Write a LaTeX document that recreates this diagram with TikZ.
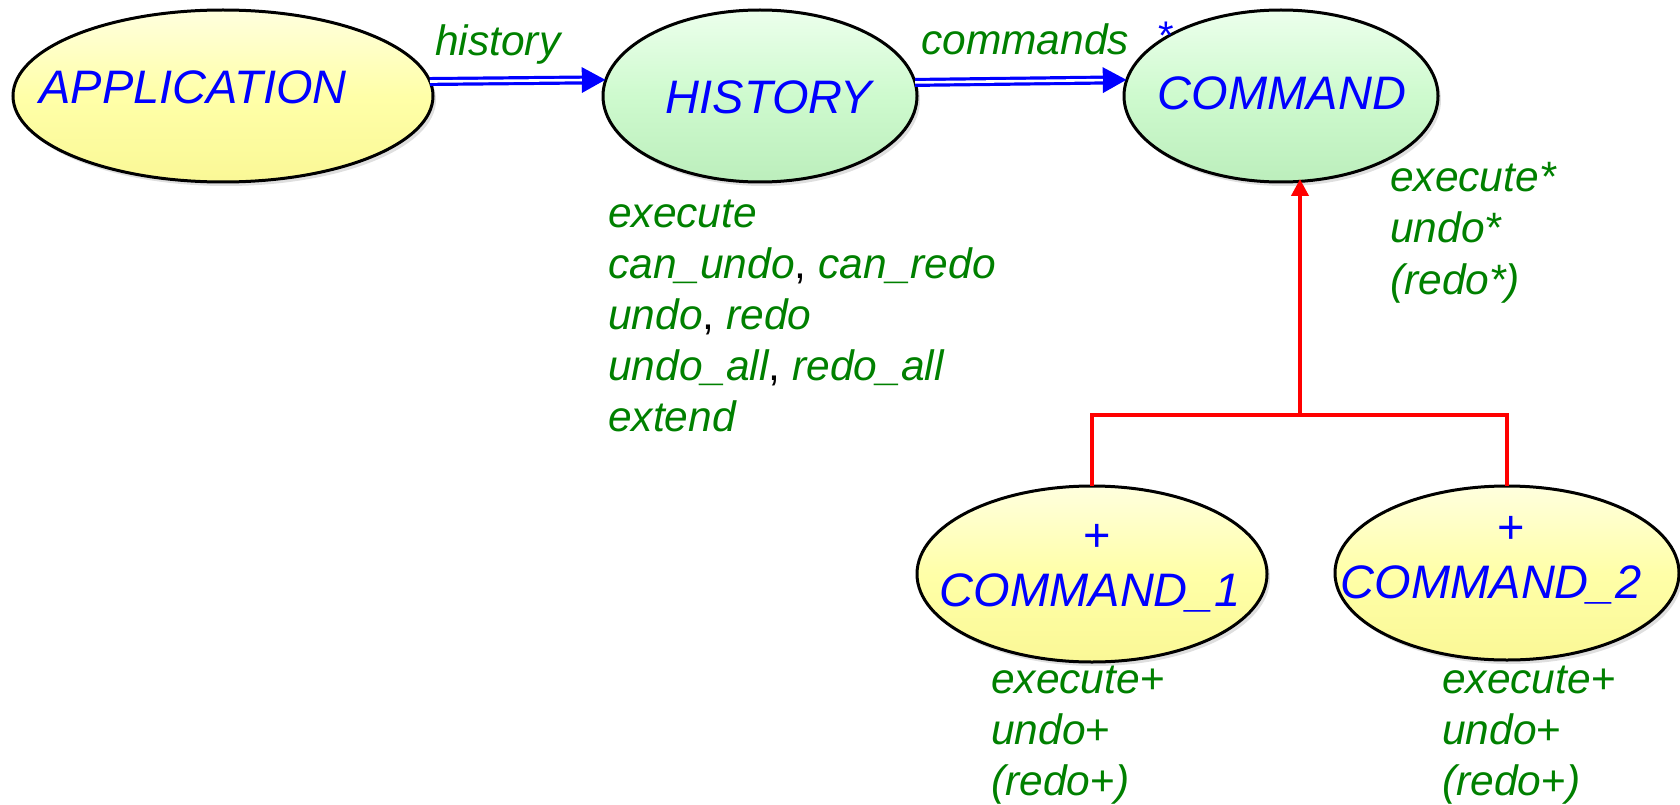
\documentclass[tikz,border=0pt]{standalone}
\usepackage{fontspec}
\setmainfont{Liberation Sans}
\usetikzlibrary{arrows.meta,shapes.geometric,shadows}
\definecolor{fgreen}{RGB}{0,128,0}
\definecolor{ytop}{RGB}{255,255,222}
\definecolor{ymid}{RGB}{255,255,168}
\definecolor{ybot}{RGB}{250,248,150}
\definecolor{gtop}{RGB}{236,255,236}
\definecolor{gmid}{RGB}{206,250,206}
\definecolor{gbot}{RGB}{188,238,188}
\newcommand\blackcomma{{\upshape\color{black},}}
\newcommand\plussign{{\upshape +}}
\begin{document}
\begin{tikzpicture}[x=1pt,y=-1pt,
  ell/.style={ellipse, draw=black, line width=3pt, outer sep=0pt, inner sep=0pt,
    drop shadow={opacity=0.25, shadow xshift=3pt, shadow yshift=-4pt}},
  yell/.style={ell, top color=ytop, bottom color=ybot, middle color=ymid},
  gell/.style={ell, top color=gtop, bottom color=gbot, middle color=gmid},
  cls/.style={text=blue, font=\fontsize{47}{55}\selectfont\itshape, inner sep=0pt, anchor=base},
  feat/.style={text=fgreen, font=\fontsize{42.5}{51}\selectfont\itshape, inner sep=0pt, anchor=base west},
  assoc/.style={draw=blue, line width=9pt, -{Triangle[length=24pt,width=24pt]}},
  gapline/.style={draw=white, line width=2.6pt, shorten >=24pt},
  inherit/.style={draw=red, line width=4pt}]
\useasboundingbox (0,0) rectangle (1680,805);

% ellipses
\node[yell, minimum width=420pt, minimum height=172pt] (app) at (223,96) {};
\node[gell, minimum width=314pt, minimum height=172pt] (hist) at (760,96) {};
\node[gell, minimum width=314pt, minimum height=172pt] (cmd) at (1281,96) {};
\node[yell, minimum width=350pt, minimum height=176pt] (c1) at (1092,574) {};
\node[yell, minimum width=344pt, minimum height=174pt] (c2) at (1507,573) {};

% class names
\node[cls] (appL) at (193,104) {APPLICATION};
\node[cls] (histL) at (769,114) {HISTORY};
\node[cls] (cmdL) at (1282,110) {COMMAND};
\node[cls] (c1p) at (1097,551) {\plussign};
\node[cls] (c1L) at (1090,606) {COMMAND\_1};
\node[cls] (c2p) at (1511,543) {\plussign};
\node[cls] (c2L) at (1491,598) {COMMAND\_2};
\node[text=blue, font=\fontsize{40}{48}\selectfont, inner sep=0pt, anchor=base] (star) at (1166,50) {*};

% client arrows
\draw[assoc] (app.4) -- (hist.174.5);
\draw[gapline] (app.4) -- (hist.174.5);
\draw[assoc] (hist.5.5) -- (cmd.174.5);
\draw[gapline] (hist.5.5) -- (cmd.174.5);

% inheritance
\coordinate (j) at (1300,415);
\draw[inherit] (c1.north) |- (j) -| (c2.north);
\draw[inherit, -{Triangle[length=17pt,width=17pt]}] (j) -- ([yshift=3pt]j |- cmd.south);

% labels
\node[feat] (histlab) at (435,56) {history};
\node[feat] (cmdslab) at (921,55) {commands};
\node[feat] (histF) at (608,227) {\begin{tabular}[t]{@{}l@{}}execute\\ can\_undo\blackcomma{} can\_redo\\ undo\blackcomma{} redo\\ undo\_all\blackcomma{} redo\_all\\ extend\end{tabular}};
\node[feat] (cmdF) at (1390,192) {\begin{tabular}[t]{@{}l@{}}execute*\\ undo*\\ (redo*)\end{tabular}};
\node[feat] (c1F) at (991,693) {\begin{tabular}[t]{@{}l@{}}execute\plussign\\ undo\plussign\\ (redo\plussign)\end{tabular}};
\node[feat] (c2F) at (1442,693) {\begin{tabular}[t]{@{}l@{}}execute\plussign\\ undo\plussign\\ (redo\plussign)\end{tabular}};
\end{tikzpicture}
\end{document}
